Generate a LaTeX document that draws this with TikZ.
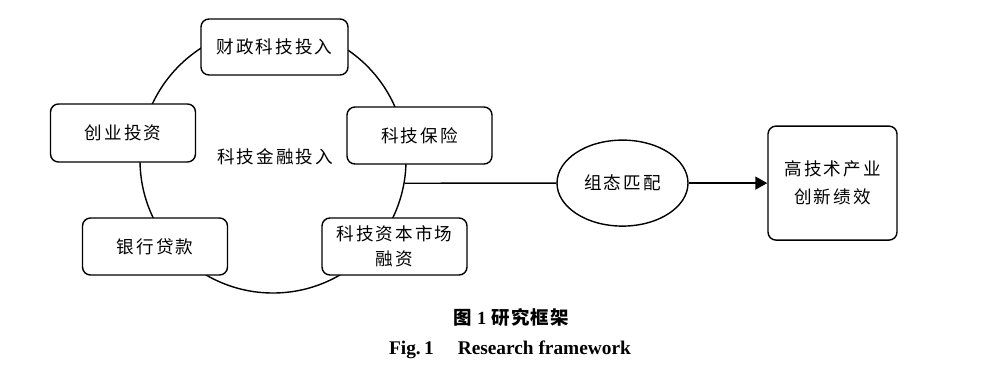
\documentclass[tikz,border=0pt]{standalone}
\usepackage{fontspec}
\setmainfont{Liberation Serif}
\newfontfamily\cjk{Noto Sans CJK SC}[LetterSpace=12]
\newfontfamily\cjkcap{Noto Sans CJK SC}[LetterSpace=6]
\usetikzlibrary{arrows.meta,shapes.geometric}
\tikzset{
  fbox/.style={draw=black, rounded corners=1.6mm, line width=0.8pt, align=center, fill=white, minimum width=2.9cm, minimum height=1.14cm, font=\cjk\fontsize{10pt}{12pt}\selectfont},
  oval/.style={ellipse, draw=black, line width=0.8pt, fill=white, minimum width=2.62cm, minimum height=1.72cm, font=\cjk\fontsize{10pt}{12pt}\selectfont},
  ringline/.style={circle, draw=black, line width=0.8pt, minimum size=5.32cm, inner sep=0pt},
  arrow/.style={-{Triangle[length=2.4mm,width=2.6mm]}, line width=0.8pt, draw=black}
}

\begin{document}
\begin{tikzpicture}
  \useasboundingbox (0,0) rectangle (20,-7.38);
  % ring of financing inputs
  \node[ringline] (finring) at (5.46,-3.2) {};
  \node[font=\cjk\fontsize{10pt}{12pt}\selectfont] (input) at (5.50,-3.14) {科技金融投入};
  \node[fbox, minimum width=2.94cm, minimum height=1.12cm] (fiscal) at (5.49,-0.94) {财政科技投入};
  \node[fbox, minimum height=1.16cm] (venture) at (2.46,-2.66) {创业投资};
  \node[fbox] (insure) at (8.39,-2.71) {科技保险};
  \node[fbox] (loan) at (3.10,-4.93) {银行贷款};
  \node[fbox] (market) at (7.89,-4.93) {科技资本市场\\[2pt]融资};
  % matching and outcome
  \node[oval] (match) at (12.45,-3.662) {组态匹配};
  \node[fbox, minimum width=2.58cm, minimum height=2.28cm] (outcome) at (16.65,-3.662) {高技术产业\\[4pt]创新绩效};
  \draw[line width=0.8pt] (finring.-10) -- (match);
  \draw[arrow] (match) -- (outcome);
  % caption
  \node[font=\cjkcap\bfseries\fontsize{10.5pt}{12pt}\selectfont] (capzh) at (10.22,-6.34) {图 {\rmfamily 1} 研究框架};
  \node[font=\bfseries\fontsize{11pt}{13pt}\selectfont] (capen) at (10.2,-7.0) {Fig.\,1\quad\ Research framework};
\end{tikzpicture}
\end{document}
